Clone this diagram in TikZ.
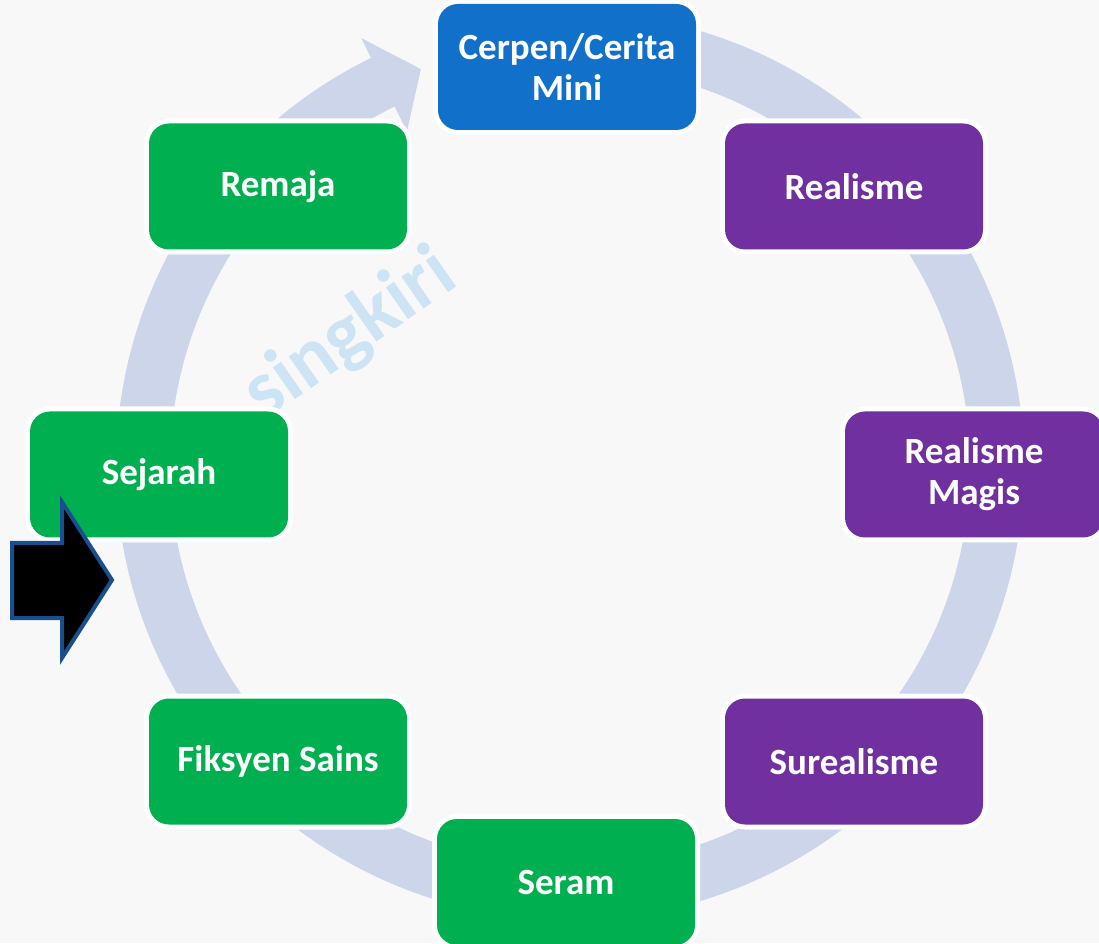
\documentclass[tikz,border=0pt]{standalone}
\usepackage{fontspec}
\setmainfont{Carlito}
\usetikzlibrary{calc}
\definecolor{ringc}{HTML}{CDD5EA}
\definecolor{bgc}{HTML}{F8F8F8}
\definecolor{blueb}{HTML}{1170CA}
\definecolor{purpleb}{HTML}{7030A0}
\definecolor{greenb}{HTML}{00B050}
\definecolor{arrowblue}{HTML}{1A4F8F}
\definecolor{wmc}{HTML}{CCE4F3}
\newcommand\mybox[4]{%
  \node[box, fill=#3, label={[lbl]center:#4}] (#1) at (#2) {};
}
\begin{document}
\begin{tikzpicture}[x=1pt,y=1pt,
  box/.style={rounded corners=20pt, minimum width=258pt, minimum height=126pt,
    inner sep=0pt, preaction={draw=white, line width=10pt}},
  lbl/.style={text=white, font=\fontsize{37}{41}\selectfont\bfseries, align=center, inner sep=0pt},
  ring/.style={ringc, line width=54pt},
  blackarrow/.style={fill=black, draw=arrowblue, line width=4pt}]
\useasboundingbox (0,0) rectangle (1099,943);
\clip (0,0) rectangle (1099,943);
\fill[bgc] (0,0) rectangle (1099,943);
\coordinate (C) at (570,477);
% circular arrow
\draw[ring] ($(C)+(80:427pt)$) arc[start angle=80, end angle=-244.5, radius=427pt];
\fill[ringc] ($(C)+(116:476pt)$) -- ($(C)+(110.6:424pt)$) -- ($(C)+(116:372pt)$) -- cycle;
% watermark
\node[rotate=35, anchor=base west, text=wmc, font=\fontsize{80}{80}\selectfont\bfseries] (wm) at (262,520) {singkiri};
% boxes
\mybox{cerpen}{567,876}{blueb}{Cerpen/Cerita\\Mini}
\mybox{realisme}{854,756.5}{purpleb}{Realisme}
\mybox{magis}{974,468.5}{purpleb}{Realisme\\Magis}
\mybox{surealisme}{854,181.5}{purpleb}{Surealisme}
\mybox{seram}{566,61}{greenb}{Seram}
\mybox{fiksyen}{278,181.5}{greenb}{Fiksyen Sains}
\mybox{sejarah}{159,468.5}{greenb}{Sejarah}
\mybox{remaja}{278,756.5}{greenb}{Remaja}
% black block arrow
\draw[blackarrow] (12,400) -- (62,400) -- (62,441) -- (112,363) -- (62,285) -- (62,325) -- (12,325) -- cycle;
\end{tikzpicture}
\end{document}
